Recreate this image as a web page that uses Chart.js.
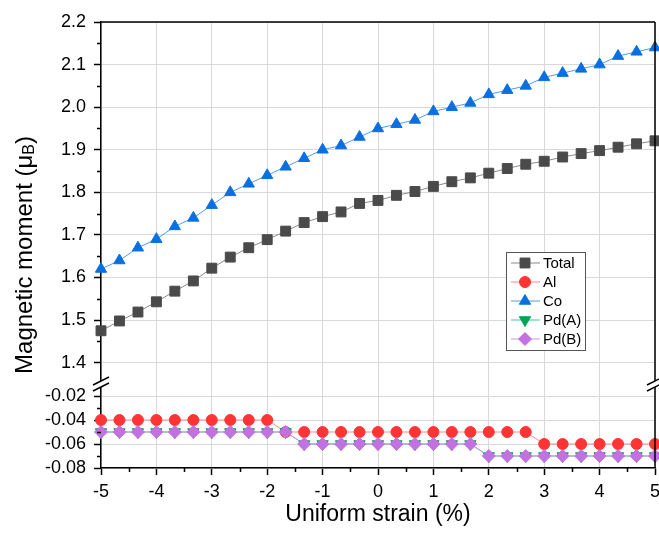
<!DOCTYPE html>
<html>
<head>
<meta charset="utf-8">
<script src="https://cdn.jsdelivr.net/npm/chart.js@4.4.1/dist/chart.umd.min.js"></script>
<style>
  html, body { margin: 0; padding: 0; background: #fff; }
  #wrap { width: 659px; height: 538px; }
</style>
</head>
<body>
<div id="wrap"><canvas id="grafico" width="659" height="538"></canvas></div>
<script>
// datos
var strain = [-5, -4.667, -4.333, -4, -3.667, -3.333, -3, -2.667, -2.333, -2, -1.667, -1.333, -1, -0.667, -0.333,
              0, 0.333, 0.667, 1, 1.333, 1.667, 2, 2.333, 2.667, 3, 3.333, 3.667, 4, 4.333, 4.667, 5];
var total = [1.475, 1.498, 1.519, 1.543, 1.568, 1.592, 1.622, 1.648, 1.670, 1.689, 1.709, 1.729, 1.743, 1.754, 1.774,
             1.781, 1.793, 1.802, 1.814, 1.825, 1.834, 1.845, 1.856, 1.866, 1.873, 1.883, 1.891, 1.898, 1.906, 1.914, 1.921];
var al = [-0.04, -0.04, -0.04, -0.04, -0.04, -0.04, -0.04, -0.04, -0.04, -0.04, -0.05, -0.05, -0.05, -0.05, -0.05,
          -0.05, -0.05, -0.05, -0.05, -0.05, -0.05, -0.05, -0.05, -0.05, -0.06, -0.06, -0.06, -0.06, -0.06, -0.06, -0.06];
var co = [1.62, 1.64, 1.67, 1.69, 1.72, 1.74, 1.77, 1.80, 1.82, 1.84, 1.86, 1.88, 1.90, 1.91, 1.93,
          1.95, 1.96, 1.97, 1.99, 2.00, 2.01, 2.03, 2.04, 2.05, 2.07, 2.08, 2.09, 2.10, 2.12, 2.13, 2.14];
var pdA = [-0.05, -0.05, -0.05, -0.05, -0.05, -0.05, -0.05, -0.05, -0.05, -0.05, -0.05, -0.06, -0.06, -0.06, -0.06,
           -0.06, -0.06, -0.06, -0.06, -0.06, -0.06, -0.07, -0.07, -0.07, -0.07, -0.07, -0.07, -0.07, -0.07, -0.07, -0.07];
var pdB = [-0.05, -0.05, -0.05, -0.05, -0.05, -0.05, -0.05, -0.05, -0.05, -0.05, -0.05, -0.06, -0.06, -0.06, -0.06,
           -0.06, -0.06, -0.06, -0.06, -0.06, -0.06, -0.07, -0.07, -0.07, -0.07, -0.07, -0.07, -0.07, -0.07, -0.07, -0.07];

// marcas de los ejes
var xTicks = [-5, -4, -3, -2, -1, 0, 1, 2, 3, 4, 5];
var xMinor = [-4.5, -3.5, -2.5, -1.5, -0.5, 0.5, 1.5, 2.5, 3.5, 4.5];
var upperTicks = [1.4, 1.5, 1.6, 1.7, 1.8, 1.9, 2.0, 2.1, 2.2];
var upperMinor = [1.45, 1.55, 1.65, 1.75, 1.85, 1.95, 2.05, 2.15];
var lowerTicks = [-0.08, -0.06, -0.04, -0.02];
var lowerMinor = [-0.07, -0.05, -0.03];

function puntos(ys) {
    var out = [];
    for (var i = 0; i < strain.length; i++) out.push({ x: strain[i], y: ys[i] });
    return out;
}

function serie(label, ys, eje, marker, linea, estilo, radio, rot, orden) {
    return {
        label: label,
        data: puntos(ys),
        yAxisID: eje,
        borderColor: linea,
        borderWidth: 1,
        backgroundColor: marker,
        pointBackgroundColor: marker,
        pointBorderColor: marker,
        pointBorderWidth: 1,
        pointStyle: estilo,
        pointRadius: radio,
        pointHoverRadius: radio,
        pointRotation: rot,
        tension: 0,
        clip: false,
        order: orden
    };
}

var datasets = [
    serie('Total', total, 'yHigh', '#4a4a4a', '#8a8a8a', 'rect', 7, 0, 4),
    serie('Al', al, 'yLow', '#ff3535', '#ff8a8a', 'circle', 5.5, 0, 3),
    serie('Co', co, 'yHigh', '#0a70e0', '#4f9de8', 'triangle', 6.5, 0, 2),
    serie('Pd(A)', pdA, 'yLow', '#00a457', '#45c79a', 'triangle', 6.5, 180, 1),
    serie('Pd(B)', pdB, 'yLow', '#c172e0', '#c99ae6', 'rectRot', 6.5, 0, 0)
];

var fuente = 'Arial, "Liberation Sans", sans-serif';

// leyenda dentro del area, marcas menores, cortes del eje y titulo y
var extras = {
    id: 'extras',
    afterDraw: function (chart) {
        var ctx = chart.ctx;
        var a = chart.chartArea;
        var sx = chart.scales.x, yh = chart.scales.yHigh, yl = chart.scales.yLow;
        ctx.save();

        // marcas menores
        ctx.strokeStyle = '#000';
        ctx.lineWidth = 1.5;
        ctx.beginPath();
        xMinor.forEach(function (v) {
            var px = Math.round(sx.getPixelForValue(v)) + 0.5;
            ctx.moveTo(px, a.bottom); ctx.lineTo(px, a.bottom + 4);
        });
        upperMinor.forEach(function (v) {
            var py = Math.round(yh.getPixelForValue(v)) + 0.5;
            ctx.moveTo(a.left, py); ctx.lineTo(a.left - 4, py);
        });
        lowerMinor.forEach(function (v) {
            var py = Math.round(yl.getPixelForValue(v)) + 0.5;
            ctx.moveTo(a.left, py); ctx.lineTo(a.left - 4, py);
        });
        ctx.stroke();

        // borde superior y derecho
        var corte = yh.bottom;
        ctx.beginPath();
        ctx.moveTo(a.left, a.top); ctx.lineTo(a.right, a.top);
        ctx.moveTo(a.right, a.top); ctx.lineTo(a.right, a.bottom);
        ctx.stroke();

        // cortes del eje
        [a.left, a.right].forEach(function (ex) {
            ctx.fillStyle = '#fff';
            ctx.fillRect(ex - 2, corte - 3, 4, 6);
            ctx.beginPath();
            ctx.lineWidth = 1.5;
            ctx.moveTo(ex - 8, corte + 1); ctx.lineTo(ex + 8, corte - 7);
            ctx.moveTo(ex - 8, corte + 7); ctx.lineTo(ex + 8, corte - 1);
            ctx.stroke();
        });

        // titulo del eje y con subindice
        ctx.translate(25, (a.top + a.bottom) / 2 + 10);
        ctx.rotate(-Math.PI / 2);
        ctx.fillStyle = '#000';
        ctx.textBaseline = 'middle';
        var t1 = 'Magnetic moment (\u03bc';
        ctx.font = '16px ' + fuente;
        var wB = ctx.measureText('B').width;
        ctx.font = '24px ' + fuente;
        var w1 = ctx.measureText(t1).width;
        var w2 = ctx.measureText(')').width;
        var x0 = -(w1 + wB + w2) / 2;
        ctx.fillText(t1, x0, 0);
        ctx.font = '16px ' + fuente;
        ctx.fillText('B', x0 + w1, 5);
        ctx.font = '24px ' + fuente;
        ctx.fillText(')', x0 + w1 + wB, 0);
        ctx.setTransform(1, 0, 0, 1, 0, 0);

        // leyenda
        var lx = 506, ly = 252, lw = 79, lh = 98;
        ctx.fillStyle = '#fff';
        ctx.fillRect(lx, ly, lw, lh);
        ctx.strokeStyle = '#555';
        ctx.lineWidth = 1;
        ctx.strokeRect(lx + 0.5, ly + 0.5, lw, lh);
        chart.data.datasets.forEach(function (d, i) {
            var yy = 263 + i * 19;
            ctx.strokeStyle = d.borderColor;
            ctx.lineWidth = 1;
            ctx.beginPath();
            ctx.moveTo(511, yy); ctx.lineTo(540, yy);
            ctx.stroke();
            ctx.fillStyle = d.pointBackgroundColor;
            ctx.strokeStyle = d.pointBorderColor;
            Chart.helpers.drawPoint(ctx, {
                pointStyle: d.pointStyle,
                radius: d.pointRadius,
                rotation: d.pointRotation,
                borderWidth: 1
            }, 525, yy);
            ctx.fillStyle = '#000';
            ctx.font = '15px ' + fuente;
            ctx.textBaseline = 'middle';
            ctx.textAlign = 'left';
            ctx.fillText(d.label, 543, yy + 1);
        });
        ctx.restore();
    }
};

var ctx = document.getElementById('grafico').getContext('2d');
window.myChart = new Chart(ctx, {
    type: 'line',
    data: { datasets: datasets },
    options: {
        responsive: false,
        animation: false,
        events: [],
        layout: { autoPadding: false, padding: { left: 41, right: 4, top: 22, bottom: 0 } },
        plugins: { legend: { display: false }, tooltip: { enabled: false } },
        scales: {
            x: {
                type: 'linear',
                min: -5,
                max: 5,
                afterBuildTicks: function (s) { s.ticks = xTicks.map(function (v) { return { value: v }; }); },
                afterFit: function (s) { s.height = 70; s.paddingLeft = 0; s.paddingRight = 0; },
                ticks: { color: '#000', font: { size: 18, family: fuente }, padding: 6, maxRotation: 0, autoSkip: false },
                grid: { color: '#d9d9d9', lineWidth: 1, tickLength: 7, tickColor: '#000', tickWidth: 1.5 },
                border: { color: '#000', width: 1.5 },
                title: {
                    display: true,
                    text: 'Uniform strain (%)',
                    color: '#000',
                    font: { size: 23, family: fuente },
                    padding: { top: 0, bottom: 10 }
                }
            },
            yHigh: {
                type: 'linear',
                position: 'left',
                stack: 'y',
                stackWeight: 362,
                weight: 2,
                min: 1.35,
                max: 2.2,
                afterBuildTicks: function (s) { s.ticks = upperTicks.map(function (v) { return { value: v }; }); },
                afterFit: function (s) { s.width = 60; s.paddingTop = 0; s.paddingBottom = 0; },
                ticks: {
                    color: '#000', font: { size: 18, family: fuente }, padding: 8, autoSkip: false,
                    callback: function (v) { return v.toFixed(1); }
                },
                grid: { color: '#d9d9d9', lineWidth: 1, tickLength: 7, tickColor: '#000', tickWidth: 1.5 },
                border: { color: '#000', width: 1.5 }
            },
            yLow: {
                type: 'linear',
                position: 'left',
                stack: 'y',
                stackWeight: 84,
                weight: 1,
                min: -0.08,
                max: -0.01,
                afterBuildTicks: function (s) { s.ticks = lowerTicks.map(function (v) { return { value: v }; }); },
                afterFit: function (s) { s.width = 60; s.paddingTop = 0; s.paddingBottom = 0; },
                ticks: {
                    color: '#000', font: { size: 18, family: fuente }, padding: 8, autoSkip: false,
                    callback: function (v) { return v.toFixed(2); }
                },
                grid: { color: '#d9d9d9', lineWidth: 1, tickLength: 7, tickColor: '#000', tickWidth: 1.5 },
                border: { color: '#000', width: 1.5 }
            }
        }
    },
    plugins: [extras]
});
</script>
</body>
</html>
